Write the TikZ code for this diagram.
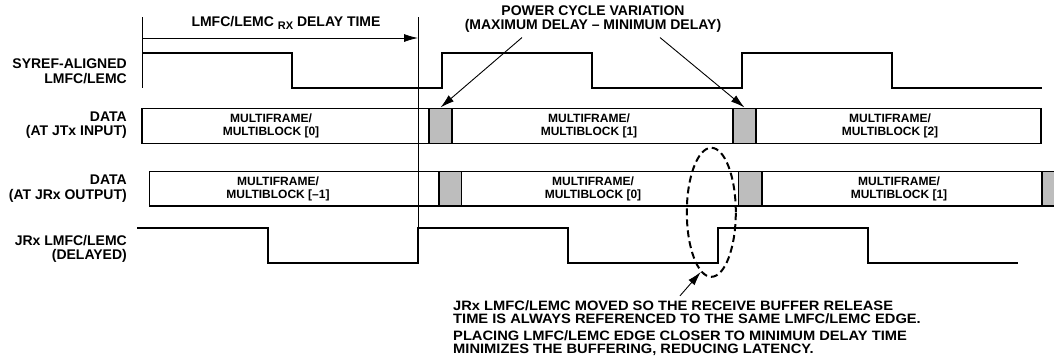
\documentclass[tikz,border=0pt]{standalone}
\usepackage{fontspec}
\setmainfont{Liberation Sans}
\newfontfamily\notefont{Liberation Sans}[FakeStretch=1.08]
\usetikzlibrary{arrows.meta, positioning, shapes.geometric}
\definecolor{padgray}{HTML}{BDBDBD}

\begin{document}
\begin{tikzpicture}[x=1pt, y=-1pt,
  wave/.style={line width=2pt},
  guide/.style={line width=0.8pt},
  frame/.style={draw, line width=1.6pt, inner sep=0pt},
  pada/.style={frame, fill=padgray, minimum height=35pt},
  padb/.style={frame, fill=padgray, minimum height=34.3pt},
  blocktxt/.style={font=\fontsize{12}{13}\selectfont\bfseries, align=center, inner sep=0pt},
  sidelbl/.style={font=\fontsize{14}{14.5}\selectfont\bfseries, align=right, anchor=east, inner sep=0pt},
  toplbl/.style={font=\fontsize{14}{14}\selectfont\bfseries, align=center, inner sep=0pt},
  pointer/.style={line width=0.9pt, -{Latex[length=14pt, width=8pt]}}]
\useasboundingbox (0,0) rectangle (1054,362);

% row labels
\node[sidelbl] (lsyref) at (127,71.2) {SYREF-ALIGNED\\LMFC/LEMC};
\node[sidelbl] (ljtx) at (127,125) {DATA\\(AT JTx INPUT)};
\node[sidelbl] (ljrx) at (127,188.4) {DATA\\(AT JRx OUTPUT)};
\node[sidelbl] (ldly) at (127,249) {JRx LMFC/LEMC\\(DELAYED)};

% delay time dimension
\coordinate (dlyA) at (142,17);
\coordinate (dlyB) at (418,17);
\draw[guide] (dlyA) -- (142,88);
\draw[guide] (dlyB) -- (418,263);
\draw[guide, -{Latex[length=14pt, width=8pt]}] (142,38) -- (418,38);
\node[toplbl, anchor=base] (dlylbl) at (286,26.7)
  {LMFC/LEMC \raisebox{-2.6pt}{\fontsize{11}{11}\selectfont RX} DELAY TIME};

% SYREF-aligned LMFC/LEMC
\draw[wave] (142,53) -- (292,53) -- (292,87.7) -- (441.7,87.7) -- (441.7,53)
  -- (591.7,53) -- (591.7,87.7) -- (741.7,87.7) -- (741.7,53)
  -- (891.7,53) -- (891.7,87.7) -- (1041.7,87.7);

% data at JTx input
\node[frame, minimum width=899pt, minimum height=35pt] (jtx) at (591.5,125.8) {};
\node[pada, minimum width=23pt] (jtxpad1) at (440.5,125.8) {};
\node[pada, minimum width=23pt] (jtxpad2) at (744.5,125.8) {};
\node[blocktxt] (jtx0) at (271,125.8) {MULTIFRAME/\\MULTIBLOCK [0]};
\node[blocktxt] (jtx1) at (589,125.8) {MULTIFRAME/\\MULTIBLOCK [1]};
\node[blocktxt] (jtx2) at (890,125.8) {MULTIFRAME/\\MULTIBLOCK [2]};

% data at JRx output
\node[frame, minimum width=906.7pt, minimum height=34.3pt] (jrx) at (602.65,188.8) {};
\node[padb, minimum width=22.7pt] (jrxpad1) at (450.3,188.8) {};
\node[padb, minimum width=23.4pt] (jrxpad2) at (750,188.8) {};
\node[padb, minimum width=14.6pt] (jrxpad3) at (1049,188.8) {};
\node[blocktxt] (jrxm1) at (278,188.8) {MULTIFRAME/\\MULTIBLOCK [--1]};
\node[blocktxt] (jrx0) at (593,188.8) {MULTIFRAME/\\MULTIBLOCK [0]};
\node[blocktxt] (jrx1) at (899,188.8) {MULTIFRAME/\\MULTIBLOCK [1]};

% JRx LMFC/LEMC (delayed)
\draw[wave] (137,228) -- (268,228) -- (268,263) -- (418,263) -- (418,228)
  -- (568,228) -- (568,263) -- (718,263) -- (718,228)
  -- (868,228) -- (868,263) -- (1018,263);

% power cycle variation
\node[toplbl] (pcv) at (593,19) {POWER CYCLE VARIATION\\(MAXIMUM DELAY -- MINIMUM DELAY)};
\draw[pointer] ([xshift=-71pt,yshift=-5pt]pcv.south) -- (jtxpad1.north);
\draw[pointer] ([xshift=67pt,yshift=-5pt]pcv.south) -- (jtxpad2.north);

% moved edge
\node[draw, ellipse, line width=2pt, dash pattern=on 7pt off 4pt, inner sep=0pt,
  minimum width=49pt, minimum height=129pt] (edge) at (711.3,212.3) {};
\node[font=\notefont\fontsize{13.6}{13}\selectfont\bfseries, align=left, anchor=north west, inner sep=0pt]
  (note) at (453,300.8) {JRx LMFC/LEMC MOVED SO THE RECEIVE BUFFER RELEASE\\
  TIME IS ALWAYS REFERENCED TO THE SAME LMFC/LEMC EDGE.\\[3.5pt]
  PLACING LMFC/LEMC EDGE CLOSER TO MINIMUM DELAY TIME\\
  MINIMIZES THE BUFFERING, REDUCING LATENCY.};
\draw[pointer] ([xshift=227pt,yshift=5pt]note.north west) -- (edge.260);
\end{tikzpicture}
\end{document}
